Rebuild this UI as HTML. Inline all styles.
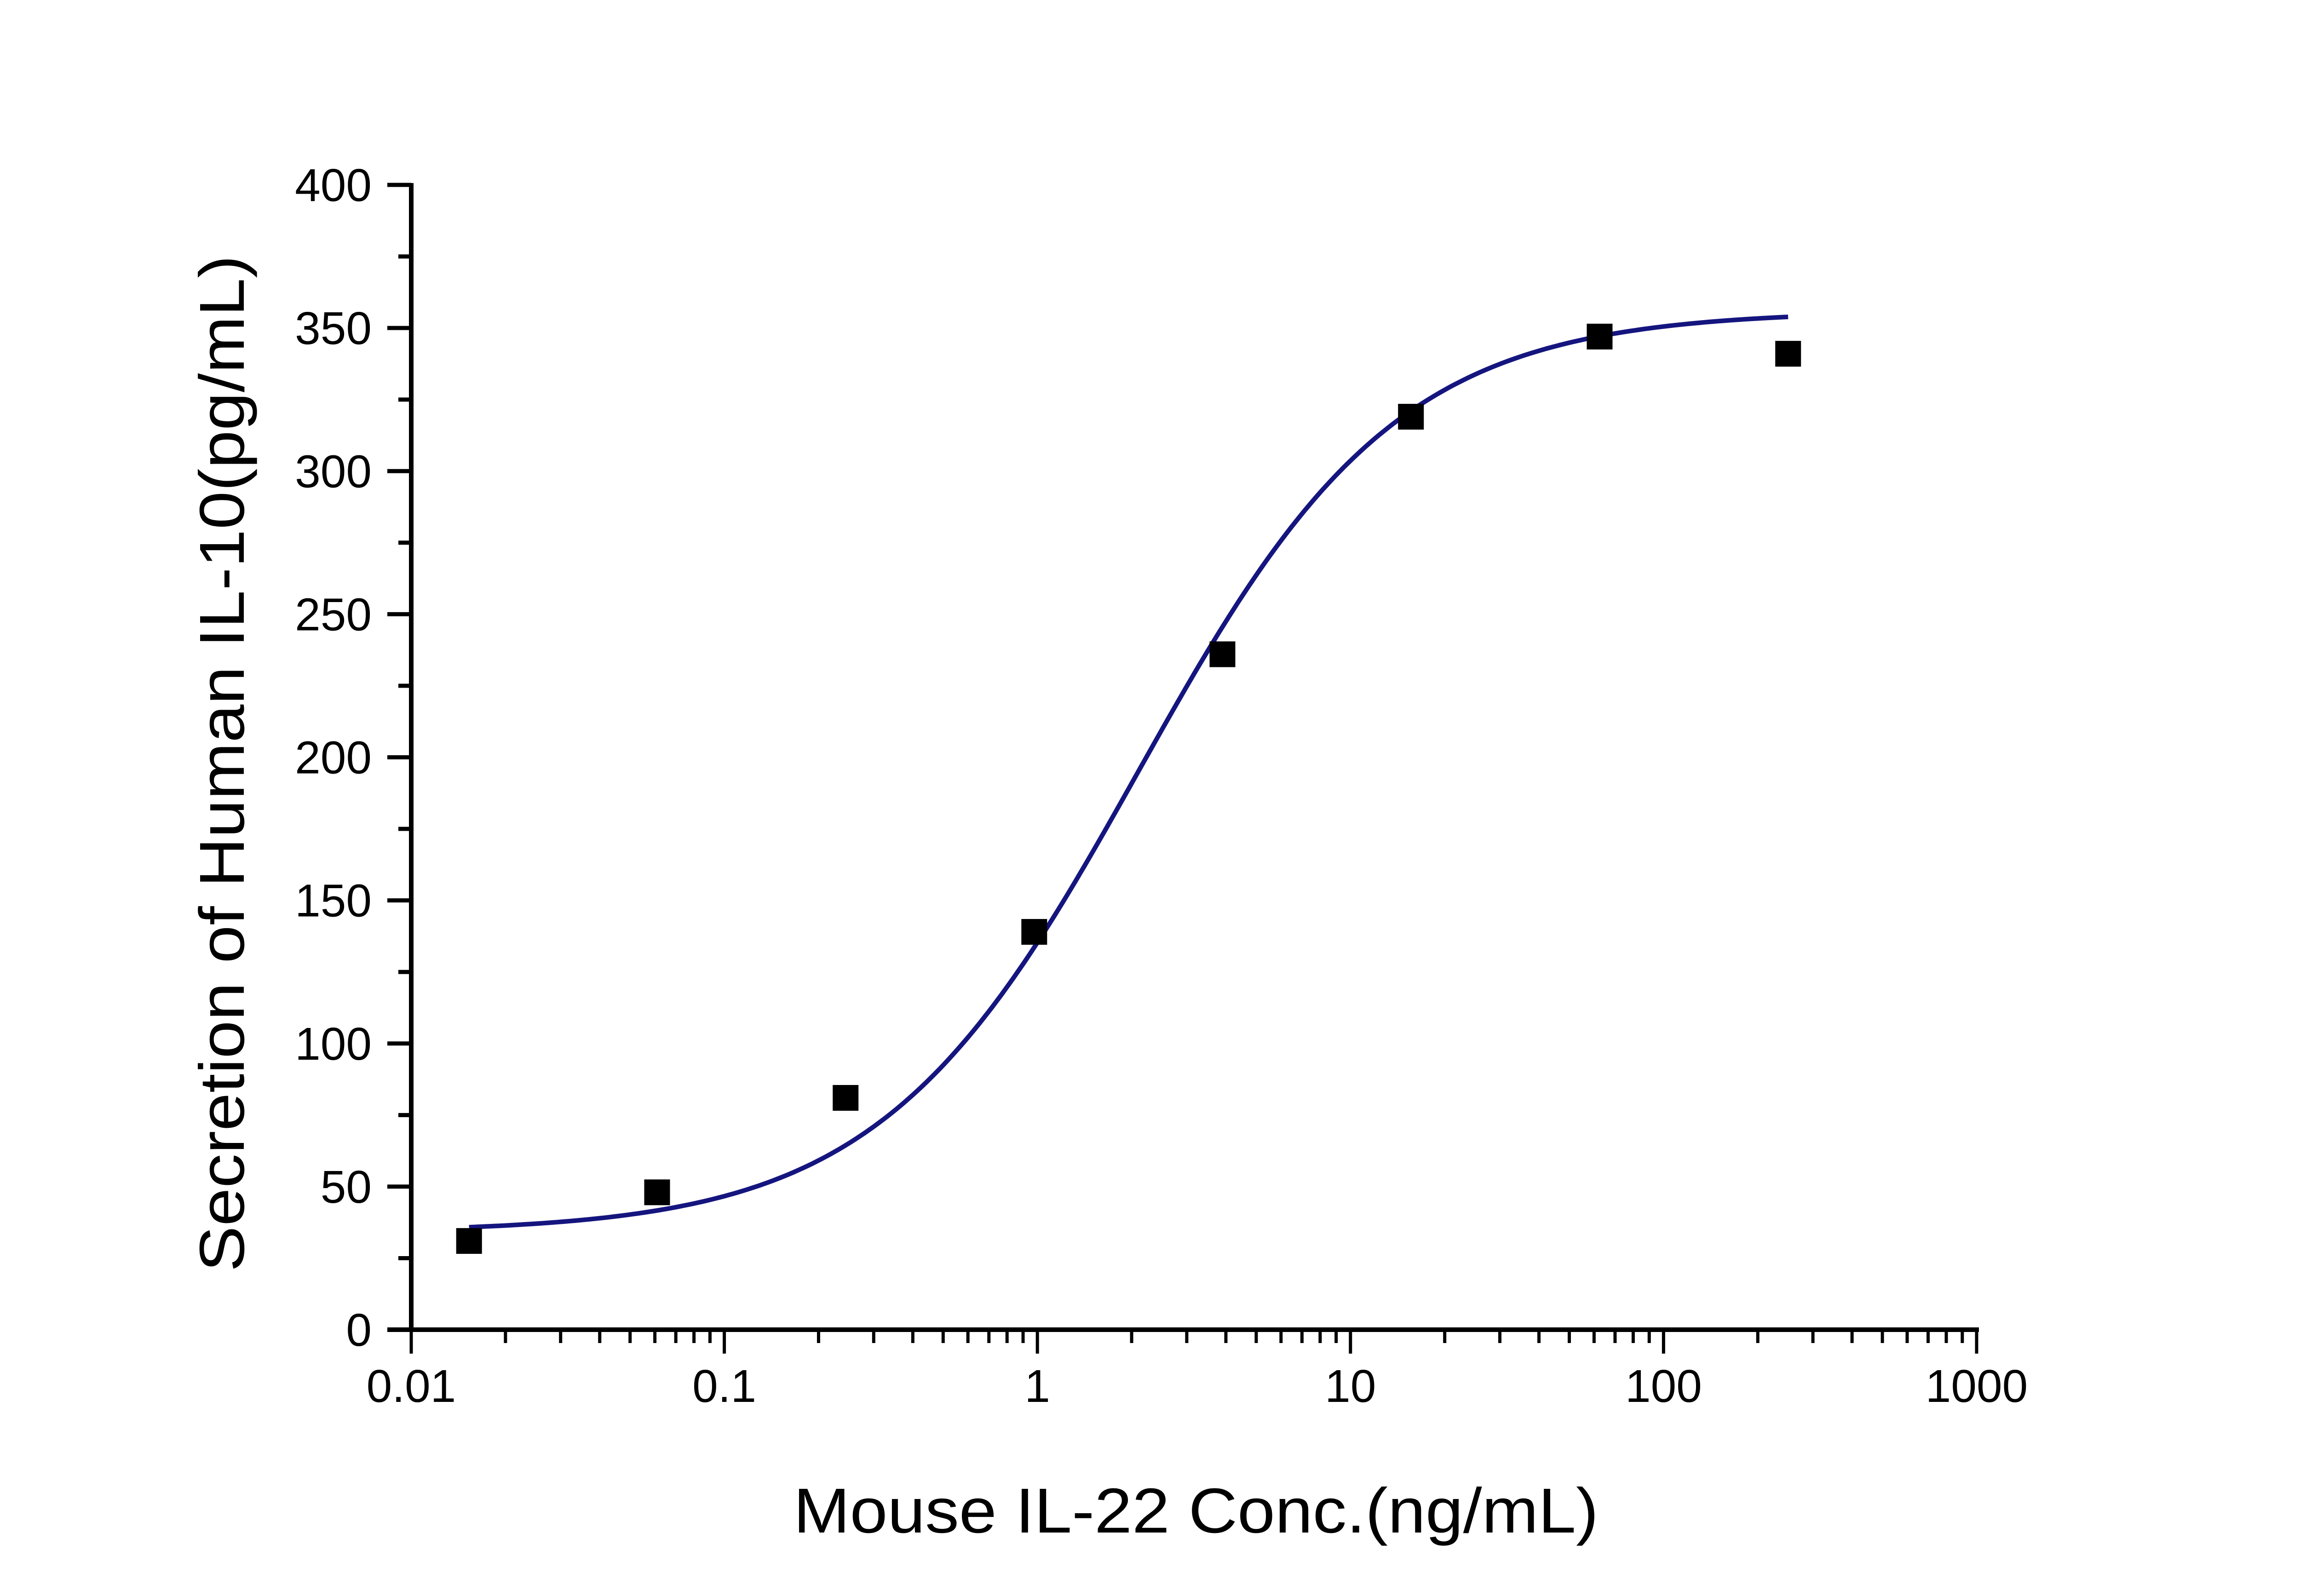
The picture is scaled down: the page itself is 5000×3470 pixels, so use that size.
<!DOCTYPE html>
<html><head><meta charset="utf-8"><style>html,body{margin:0;padding:0;background:#fff}svg{display:block}</style></head>
<body>
<svg id="chart" width="5000" height="3470" viewBox="0 0 5000 3470" xmlns="http://www.w3.org/2000/svg">
<rect width="5000" height="3470" fill="#fff"/>
<g id="axes"></g>
<g id="curve"></g>
<g id="points"></g>
<text transform="translate(530,1660) rotate(-90)" text-anchor="middle" font-family="Liberation Sans, sans-serif" font-size="138" textLength="2210" lengthAdjust="spacingAndGlyphs">Secretion of Human IL-10(pg/mL)</text>
<text x="2600" y="3332" text-anchor="middle" font-family="Liberation Sans, sans-serif" font-size="138" textLength="1750" lengthAdjust="spacingAndGlyphs">Mouse IL-22 Conc.(ng/mL)</text>
</svg>
<script>
const concentrations = [0.0153, 0.061, 0.244, 0.977, 3.9, 15.6, 62.5, 250];
const secretion = [31, 48, 81, 139, 236, 319, 347, 341];
const yTicks = [0, 50, 100, 150, 200, 250, 300, 350, 400];
const xTicks = [0.01, 0.1, 1, 10, 100, 1000];
const xTickLabels = ["0.01", "0.1", "1", "10", "100", "1000"];
const fitBottom = 34, fitTop = 356, fitEC50 = 2.1, fitHill = 1.05;

const NS = "http://www.w3.org/2000/svg";
const L = 894, R = 4297, B = 2891, T = 402;
const xMin = 0.01, xMax = 1000, yMin = 0, yMax = 400;
function xs(v){ return L + (Math.log10(v) - Math.log10(xMin)) / (Math.log10(xMax) - Math.log10(xMin)) * (R - L); }
function ys(v){ return B - (v - yMin) / (yMax - yMin) * (B - T); }
function mk(tag, attrs, parent){ const e = document.createElementNS(NS, tag); for (const k in attrs) e.setAttribute(k, attrs[k]); parent.appendChild(e); return e; }
const axes = document.getElementById('axes');
const F = "Liberation Sans, sans-serif";
let e;
e = mk('line', {x1:L, y1:T-4, x2:L, y2:B+5, stroke:'#000', 'stroke-width':10}, axes);


e = mk('line', {x1:L-52, y1:B, x2:R+5, y2:B, stroke:'#000', 'stroke-width':10}, axes);


yTicks.forEach((v, i) => {
  const y = ys(v);
  e = mk('line', {x1:L-52, y1:y, x2:L, y2:y, stroke:'#000', 'stroke-width':9}, axes);
  
  
  e = mk('text', {x:808, y:y+35, 'text-anchor':'end', 'font-family':F, 'font-size':100}, axes);
  e.textContent = v;
  
  
  if (i < yTicks.length - 1) {
    const ym = ys(v + 25);
    e = mk('line', {x1:L-28, y1:ym, x2:L, y2:ym, stroke:'#000', 'stroke-width':9}, axes);
    
    
  }
});
xTicks.forEach((v, i) => {
  const x = xs(v);
  e = mk('line', {x1:x, y1:B, x2:x, y2:B+52, stroke:'#000', 'stroke-width':7}, axes);
  
  
  e = mk('text', {x:x, y:3048, 'text-anchor':'middle', 'font-family':F, 'font-size':100}, axes);
  e.textContent = xTickLabels[i];
  
  
  if (i < xTicks.length - 1) {
    for (let m = 2; m <= 9; m++) {
      const xm = xs(v * m);
      e = mk('line', {x1:xm, y1:B, x2:xm, y2:B+29, stroke:'#000', 'stroke-width':7}, axes);
      
      
    }
  }
});
// fit curve
const cg = document.getElementById('curve');
let d = '';
const lo = Math.log10(concentrations[0]), hi = Math.log10(concentrations[concentrations.length-1]);
for (let k = 0; k <= 300; k++) {
  const c = Math.pow(10, lo + (hi - lo) * k / 300);
  const v = fitBottom + (fitTop - fitBottom) / (1 + Math.pow(fitEC50 / c, fitHill));
  d += (k ? 'L' : 'M') + xs(c).toFixed(1) + ',' + ys(v).toFixed(1);
}
e = mk('path', {d:d, fill:'none', stroke:'#15157f', 'stroke-width':10, 'stroke-linejoin':'round'}, cg);


const pg = document.getElementById('points');
const S = 56;
concentrations.forEach((c, i) => {
  e = mk('rect', {x:xs(c)-S/2, y:ys(secretion[i])-S/2, width:S, height:S, fill:'#000'}, pg);
  
  
});
</script>
</body></html>
